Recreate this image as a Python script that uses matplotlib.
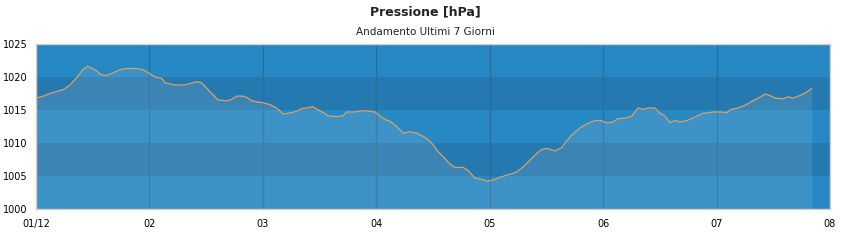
import matplotlib
matplotlib.use("Agg")
import matplotlib.pyplot as plt
import numpy as np

# Data: time in days since 01/12 00:00, pressure in hPa
days = [0.000, 0.064, 0.123, 0.182, 0.241, 0.300, 0.359, 0.417, 0.456, 0.520,
        0.570, 0.617, 0.676, 0.741, 0.800, 0.888, 0.946, 1.005, 1.049, 1.108,
        1.140, 1.225, 1.314, 1.358, 1.417, 1.461, 1.505, 1.549, 1.607, 1.681,
        1.725, 1.769, 1.828, 1.857, 1.902, 1.960, 2.004, 2.063, 2.122, 2.180,
        2.254, 2.312, 2.340, 2.386, 2.439, 2.489, 2.533, 2.577, 2.651, 2.704,
        2.739, 2.812, 2.886, 2.945, 2.989, 3.033, 3.086, 3.121, 3.180, 3.238,
        3.297, 3.356, 3.414, 3.459, 3.503, 3.540, 3.591, 3.650, 3.693, 3.767,
        3.811, 3.870, 3.929, 3.973, 4.032, 4.091, 4.164, 4.238, 4.296, 4.355,
        4.414, 4.458, 4.502, 4.575, 4.635, 4.664, 4.723, 4.796, 4.869, 4.928,
        4.987, 5.016, 5.075, 5.134, 5.208, 5.252, 5.281, 5.310, 5.354, 5.398,
        5.457, 5.501, 5.545, 5.589, 5.634, 5.678, 5.737, 5.795, 5.839, 5.883,
        5.927, 5.971, 6.045, 6.089, 6.127, 6.191, 6.250, 6.310, 6.368, 6.427,
        6.471, 6.515, 6.588, 6.632, 6.676, 6.735, 6.794, 6.839]
pressure = [1016.8, 1017.1, 1017.5, 1017.8, 1018.1, 1018.8, 1019.9, 1021.2, 1021.6, 1021.1,
            1020.4, 1020.2, 1020.6, 1021.1, 1021.3, 1021.3, 1021.1, 1020.5, 1020.0, 1019.8,
            1019.1, 1018.8, 1018.8, 1019.0, 1019.3, 1019.1, 1018.3, 1017.5, 1016.5, 1016.4,
            1016.6, 1017.1, 1017.1, 1016.9, 1016.4, 1016.2, 1016.1, 1015.8, 1015.3, 1014.4,
            1014.6, 1014.9, 1015.2, 1015.3, 1015.5, 1015.0, 1014.6, 1014.1, 1014.0, 1014.1,
            1014.7, 1014.7, 1014.9, 1014.8, 1014.7, 1014.1, 1013.5, 1013.3, 1012.5, 1011.5,
            1011.7, 1011.5, 1011.0, 1010.5, 1009.7, 1008.8, 1007.9, 1006.8, 1006.3, 1006.3,
            1005.8, 1004.7, 1004.5, 1004.2, 1004.4, 1004.8, 1005.2, 1005.6, 1006.4, 1007.4,
            1008.4, 1009.0, 1009.2, 1008.8, 1009.3, 1010.0, 1011.2, 1012.3, 1013.0, 1013.4,
            1013.4, 1013.1, 1013.1, 1013.7, 1013.8, 1014.1, 1014.7, 1015.3, 1015.1, 1015.3,
            1015.3, 1014.5, 1014.1, 1013.1, 1013.4, 1013.2, 1013.4, 1013.8, 1014.2, 1014.5,
            1014.6, 1014.7, 1014.7, 1014.6, 1015.1, 1015.3, 1015.7, 1016.3, 1016.8, 1017.4,
            1017.2, 1016.8, 1016.7, 1017.0, 1016.8, 1017.2, 1017.7, 1018.3]

y_ticks = [1000, 1005, 1010, 1015, 1020, 1025]
y_tick_labels = ["1000", "1005", "1010", "1015", "1020", "1025"]
x_ticks = [0, 1, 2, 3, 4, 5, 6, 7]
x_tick_labels = ["01/12", "02", "03", "04", "05", "06", "07", "08"]
title = "Pressione [hPa]"
subtitle = "Andamento Ultimi 7 Giorni"

band_light = "#2689c4"
band_dark = "#2479b0"
grid_color = "#2a6e9e"
line_color = "#e0a060"

fig = plt.figure(figsize=(8.5, 2.4), dpi=100)
ax = fig.add_axes([36 / 850, 1 - 209 / 240, (830 - 36) / 850, (209 - 44) / 240])

ax.set_xlim(x_ticks[0], x_ticks[-1])
ax.set_ylim(y_ticks[0], y_ticks[-1])

# Alternating horizontal bands
for i in range(len(y_ticks) - 1):
    ax.axhspan(y_ticks[i], y_ticks[i + 1], color=band_light if i % 2 == 0 else band_dark,
               lw=0, zorder=0)

# Vertical day grid lines
for xt in x_ticks[1:-1]:
    ax.axvline(xt, color=grid_color, lw=1, zorder=1)

ax.fill_between(days, pressure, y_ticks[0], color="#e6e0e6", alpha=0.12, lw=0, zorder=2)
ax.plot(days, pressure, color=line_color, lw=0.9, zorder=3)

ax.set_xticks(x_ticks)
ax.set_xticklabels(x_tick_labels)
ax.set_yticks(y_ticks)
ax.set_yticklabels(y_tick_labels)
ax.tick_params(axis="both", length=0, labelsize=7, colors="black")
ax.tick_params(axis="x", pad=7)
ax.tick_params(axis="y", pad=6)

for s in ax.spines.values():
    s.set_color("#d0d0d0")
    s.set_linewidth(1)

fig.text(0.5, 1 - 12 / 240, title, ha="center", va="center", fontsize=9, fontweight="bold",
         color="#222222")
fig.text(0.5, 1 - 32 / 240, subtitle, ha="center", va="center", fontsize=7.5, color="#222222")

fig.savefig("out.png", dpi=100)
